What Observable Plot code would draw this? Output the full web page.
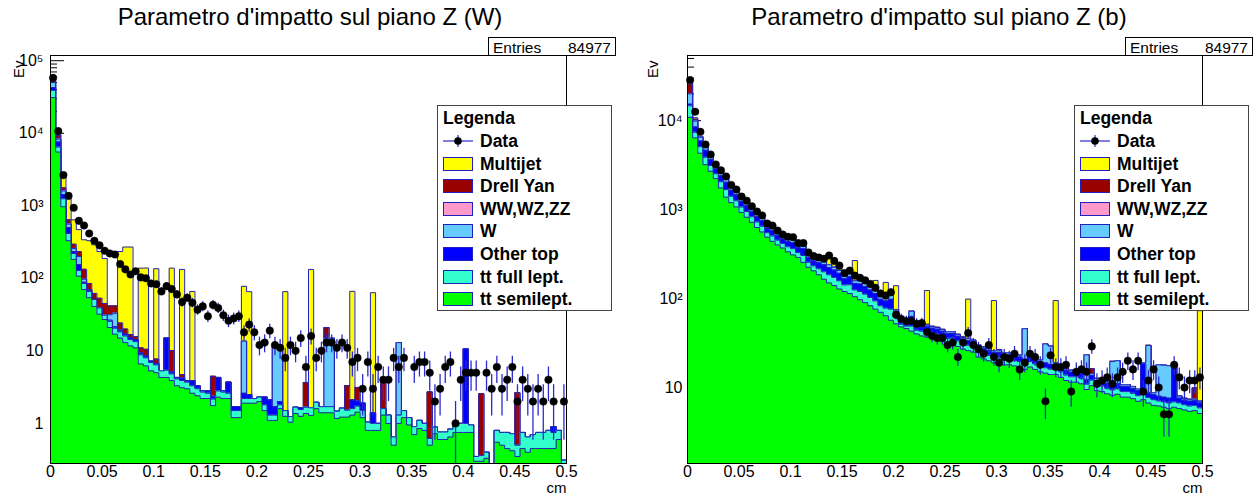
<!DOCTYPE html>
<html><head><meta charset="utf-8">
<script src="https://cdn.jsdelivr.net/npm/d3@7"></script>
<script src="https://cdn.jsdelivr.net/npm/@observablehq/plot@0.6"></script>
<style>
body{margin:0;background:#fff;font-family:"Liberation Sans",Arial,Helvetica,sans-serif;}
#root{position:relative;width:1258px;height:497px;overflow:hidden;background:#fff;}
.panel{position:absolute;top:0;width:629px;height:497px;}
.title{position:absolute;top:3px;font-size:24px;white-space:nowrap;transform:translateX(-50%);color:#000;}
.stats{position:absolute;top:37px;height:19px;width:128px;border:1px solid #000;background:#fff;font-size:15.5px;line-height:19px;box-sizing:border-box;}
.stats .k{position:absolute;left:4px;top:0;}
.stats .v{position:absolute;right:4px;top:0;}
.legend{position:absolute;top:105px;width:175px;height:206px;border:1px solid #444;background:#fff;box-sizing:border-box;font-weight:bold;font-size:17.5px;}
.legend .row{position:absolute;left:0;height:22px;line-height:22px;white-space:nowrap;}
.legend .sw{position:absolute;left:5px;top:4px;width:30px;height:14px;box-sizing:border-box;border:1px solid #2020c0;}
.legend .lab{position:absolute;left:42px;top:0;}
</style>
</head><body>
<div id="root"></div>
<script>
// ---------------- binning / axes ----------------
const nBins = 100;
const binWidth = 0.005;
const xTicks = [0, 0.05, 0.1, 0.15, 0.2, 0.25, 0.3, 0.35, 0.4, 0.45, 0.5];
const xTickLabels = ["0", "0.05", "0.1", "0.15", "0.2", "0.25", "0.3", "0.35", "0.4", "0.45", "0.5"];
const entriesW = 84977;
const entriesB = 84977;
const legendNames = ["Data", "Multijet", "Drell Yan", "WW,WZ,ZZ", "W", "Other top", "tt full lept.", "tt semilept."];

// ---------------- panel (W) ----------------
const W_ttSemi = [31000,5500,970,330,182,107,70,54,41,32,
27,21,17,15,13,11.7,11,6.6,6.2,5.3,
5.0,4.3,4.3,3.9,3.3,3.1,3.0,2.6,2.4,2.2,
2.2,1.76,2.3,2.2,2.2,1.2,1.2,1.9,1.9,1.9,
2.0,1.5,1.1,1.1,1.6,1.25,1.04,1.37,1.25,1.37,
1.29,1.6,1.4,1.4,1.4,1.17,1.22,1.22,1.3,1.43,
1.2,0.8,0.8,0.8,1.3,1.0,0.5,1.0,1.2,0.95,
0.7,0.85,0.8,0.5,0.72,0.6,0.6,0.65,0.75,0.75,
0.75,0.75,0.3,0.3,0.33,0,0.55,0.5,0.45,0.42,
0.35,0.45,0.4,0.45,0.45,0.45,0.45,0.45,0.6,0.25];
const W_ttFull = [8000,950,280,85,38,21,15,12,10,7,
4,4.5,3.5,3.2,3,2.6,2.4,2.2,1.8,1.6,
1.4,1.0,1.1,0.9,0.8,0.8,0.7,0.7,0.6,0.5,
0.4,0.4,0.5,0.5,0.4,0.3,0.3,0.3,0.3,0.3,
0.3,0.3,0.2,0.2,0.2,0.25,0.2,0.3,0.3,0.3,
0.35,0.35,0.3,0.3,0.3,0.3,0.4,0.3,0.3,0.3,
0.3,0.24,0.2,0.2,0.3,0.3,0.15,0.3,0.3,0.25,
0.2,0.25,0.2,0.12,0.17,0.16,0.16,0.18,0.2,0.25,
0.25,0.2,0.05,0.06,0.07,0,0.25,0.25,0.3,0.3,
0.15,0.3,0.25,0.25,0.3,0.3,0.35,0.3,0.2,0.06];
const W_otherTop = [3500,1100,170,85,14,27,3,2,0,0,
0,1,1,1,1,1,0.8,0.5,0.5,0.3,
0.3,0,9.6,0.3,0.2,0.3,0.2,0.6,0.3,0.1,
0.2,0.2,1.5,0.1,1.1,0.2,0.2,0.4,0.3,0,
0,0.5,0.8,0.4,0.2,0,0,0,0.1,0,
0,0,0,0,0,0,0,0,0.5,0.3,
0.4,0,0.4,0,0,0,0,0,0,0,
0,0,0,0,0,0,0,0,0,0,
9.6,0,0,0,0,0,0,0,0,0,
0,0,0,0,0,0,0,0.15,0,0];
const W_wjets = [7500,750,180,60,23,45,9,2,0,0,
0,5,11.5,0,0,0,0,0,0,0,
0,0,0,0,0,0,0,0,0,0,
0,0,0,0,0,0,0,11,0,0,
0,0,0,10,10,0,0,0,0,0,
0,0,0,12.9,13.3,0,0,0,0,0,
0,0,0,0,0,0,0,11.7,0,0,
0,0,0,0,0,0,0,0,0,0,
0,0,0,0,0,0,0,0,0,0,
0,0,0,0,0,0,0,0,0,0];
const W_diboson = [0,0,0,0,0,0,0,0,0,0,
0,0,0,0,0,0,0,0,0,0,
0,0,0,0,0,0,0,0,0,0,
0,0,0,0,0,0,0,0,0,0,
0,0,0,0,0,0,0,0,0,0,
0,0,0,0,0,0,0,0,0,0,
0,0,0,0,0,0,0,0,0,0,
0,0,0,0,0,0,0,0,0,0,
0,0,0,0,0,0,0,0,0,0,
0,0,0,0,0,0,0,0,0,0];
const W_drellYan = [3000,1100,170,80,38,34,36,15,11,14,
14,10,8.6,5,3,1.5,1.5,1.7,2,0,
1,0,0,5,0,0.5,0,0,0,0,
0,2.1,0,0,0,0,0,0,0,0,
0,0,0,0,0,0,0,0,0,2.0,
0,0,0,6.4,0,0,0,1.8,0,1.1,
0,0,0,0,2.7,0,0,0,0,0,
0,0,0,2.1,0,0,0,0,0,0,
0,0,0,2.2,0,0,0,0,0,0,
2.15,0,0,0,0,0,0,0,0,0];
const W_multijet = [4000,900,730,610,345,236,207,245,228,181,
143,0,0,210,250,253,0,127,128,0,
128,0,0,128,0,128,0,62,0,0,
0,0,0,0,0,0,0,64,63,0,
0,0,0,0,0,64,0,0,0,0,
131,0,0,0,0,0,0,0,64,0,
0,0,62,0,0,0,0,0,0,0,
0,0,0,0,0,0,0,0,0,0,
0,0,0,0,0,0,0,0,0,0,
0,0,0,0,0,0,0,0,0,0];
const W_data = [58000,10700,2650,1370,940,620,535,415,330,285,
240,220,213,157,133,113,125,103,100,85,
83,66,78,71,60,47,54,46,37,41,
30,43,39,31,26,28,30,18,23,18,
12,13,19,12,11,8,12,10,15,6,
16,8,10,13,13,11,13,11,7,8,
3,7,3,6,4,4,8,6,8,0,
6,7,7,5,2,3,6,7,1,4,
5,5,5,0,5,3,6,3,4,6,
2,4,3,2,3,2,4,2,0,2];

// ---------------- panel (b) ----------------
const b_ttSemi = [10900,6400,4300,3200,2700,2240,1750,1380,1200,1070,
930,820,720,630,560,490,440,400,370,335,
310,290,255,225,205,185,165,150,140,128,
120,114,105,97,90,83,76,70,64,57,
52,48,46,43,40,38,37,36,35,33,
31,31,29,27,26,25,22,21,20,19,
19,18,18,17.5,17,16,17,16,15,14.5,
14,14,13,12,11.5,11.5,11,9.5,10.5,9.2,
9,8.5,8.2,8.4,7.8,7.8,7.5,7,7.3,6.7,
6.3,6.2,6,5.8,6,5.8,5.6,5.4,5.5,5.1];
const b_ttFull = [3800,1000,800,675,440,290,305,300,210,185,
140,132,110,95,90,60,65,53,45,47,
54,38,50,31,28,31,35,35,33,30,
22,29,20,23,22,20,18,13,14,19,
9,3.5,3,6,4,5,6,5.5,5.3,5,
4.7,4.7,4.4,4,3.9,3.8,3.3,3.2,3,2.9,
2.9,2.7,2.7,2.6,2.6,2.4,2.6,2.4,2.3,2.2,
2.1,2.1,2,1.8,1.7,1.7,1.7,1.4,1.6,1.4,
1.4,1.3,1.2,1.3,1.2,1.2,1.1,1.1,1.1,1,
1,0.9,0.9,0.9,0.9,0.9,0.8,0.8,0.8,0.8];
const b_otherTop = [600,1100,800,770,505,330,350,345,240,210,
160,150,126,108,103,68,75,60,52,54,
62,44,58,35,32,36,40,38,36,34,
25,33,23,26,25,22,20,15,16,22,
10,3,2.8,14,3.5,5,6,5,5,4.8,
4.6,4.6,4.3,4,3.9,3.7,3.3,3.1,3,2.8,
2.8,2.7,2.7,2.6,2.5,2.4,2.5,2.4,2.2,2.2,
2.1,2.1,2,1.8,1.7,1.7,1.6,1.4,1.6,1.4,
1.4,1.3,1.2,1.3,1.2,1.2,1.1,1.1,10,1,
1,0.9,0.9,0.9,11,0.9,0.8,0.8,0.8,0.8];
const b_wjets = [4700,1400,600,350,225,150,155,155,105,95,
72,68,57,49,46,31,34,27,23,24,
28,20,26,16,14,16,18,17,16,15,
11,15,10,12,11,10,9,7,7,10,
4,1.2,1,9,1.3,2,2,2,2,2,
1.9,1.9,1.7,1.6,1.6,1.5,1.3,1.3,1.2,1.1,
1.1,1.1,1.1,1,1,25,1,1,0.9,12,
11,0.8,0.8,0.7,0.7,0.7,0.7,11,0.6,0.6,
0.5,0.5,9,9,0.5,0.5,0.5,0.4,0.5,21,
0.4,10,10,10,0.4,0.4,0.3,0.3,0.3,0.3];
const b_diboson = [0,0,0,0,0,0,0,0,0,0,
0,0,0,0,0,0,0,0,0,0,
0,0,0,0,0,0,0,0,0,0,
0,0,0,0,0,0,0,0,0,0,
0,0,0,0,0,0,0,0,0,0,
0,0,0,0,0,0,0,0,0,0,
0,0,0,0,0,0,0,0,0,0,
0,0,0,0,0,0,0,0,0,0,
0,0,0,0,0,0,0,0,0,0,
0,0,0,0,0,0,0,0,0,0];
const b_drellYan = [5700,500,100,40,25,15,17,17,12,10,
8,7,6,5,5,3,4,3,3,3,
3,2,3,2,2,2,2,2,2,2,
1,1,1,1,1,1,1,1,1,1,
0.5,0.3,0.2,0.5,0.3,0.3,0.3,0.3,0.3,0.3,
0.3,0.3,0.3,0.3,0.3,0.2,0.2,0.2,0.2,0.2,
1,0.2,0.2,0.2,0.2,0.2,0.2,0.2,0.2,0.1,
0.1,0.1,0.1,0.1,0.1,0.1,0.1,0.1,2,0.1,
0.1,0.1,0.1,0.1,0.1,0.1,0.1,0.1,0.1,0.1,
0.1,0.1,0.1,0.1,0.1,0.1,0.1,0.1,2.5,0.1];
const b_multijet = [1000,400,100,95,65,35,43,43,28,26,
20,20,16,13,13,8,9,8,6,7,
8,5,7,4,4,5,6,48,25,14,
4,4,109,3,3,3,36,2,50,3,
64,0,0,0,0,0,72,0,0,0,
0,0,0,0,63,0,0,0,0,69,
0,0,0,0,0,0,0,0,0,0,
0,76,0,0,0,0,0,0,0,0,
0,0,0,0,0,0,0,0,0,0,
0,0,0,0,0,0,0,0,0,66];
const b_data = [28600,12600,7500,5400,4170,3220,2760,2360,1890,1680,
1400,1260,1090,950,860,695,660,580,525,495,
490,420,420,330,300,290,280,305,265,235,
193,206,181,171,160,146,132,114,108,118,
66,59,56,56,52,53,42,38,36,36,
30,32,22,32,41,30,27,24,30,22,
19,22,21,24,16,19,24,22,18,7,
23,17,17,18,9,15,16,15,29,11,
12,13,11,13,15,20,16,20,9,12,
16,10,5,5,18,13,10,12,12,13];

// ---------------- styles ----------------
const COLORS = {"tt semilept.":"#00ff00","tt full lept.":"#33ffcc","Other top":"#0000ff","W":"#66ccff","WW,WZ,ZZ":"#ff99cc","Drell Yan":"#990000","Multijet":"#ffff00"};
const OUTLINE = "#2424b8";
const ERRC = "#2a2ad0";
const FLOOR = 1e-4;

const panels = [
  {title:"Parametro d'impatto sul piano Z (W)", left:0, marginLeft:50, marginRight:63, yDomain:[0.28,1.18e5],
   yLabels:[[1,"1"],[10,"10"],[100,"10²"],[1e3,"10³"],[1e4,"10⁴"],[1e5,"10⁵"]], labelDx:-7, evDx:-37,
   stack:[["tt semilept.",W_ttSemi],["tt full lept.",W_ttFull],["Other top",W_otherTop],["W",W_wjets],["WW,WZ,ZZ",W_diboson],["Drell Yan",W_drellYan],["Multijet",W_multijet]],
   data:W_data, entries:entriesW, statsLeft:488, legendLeft:437, titleX:310},
  {title:"Parametro d'impatto sul piano Z (b)", left:629, marginLeft:58, marginRight:56, yDomain:[1.4,5.4e4],
   yLabels:[[10,"10"],[100,"10²"],[1e3,"10³"],[1e4,"10⁴"]], labelDx:-5, evDx:-40,
   stack:[["tt semilept.",b_ttSemi],["tt full lept.",b_ttFull],["Other top",b_otherTop],["W",b_wjets],["WW,WZ,ZZ",b_diboson],["Drell Yan",b_drellYan],["Multijet",b_multijet]],
   data:b_data, entries:entriesB, statsLeft:1125-629, legendLeft:1074-629, titleX:310}
];

function logTicks(lo, hi) {
  const major = [], minor = [];
  for (let e = Math.floor(Math.log10(lo)); e <= Math.ceil(Math.log10(hi)); e++) {
    for (let m = 1; m <= 9; m++) {
      const v = m * Math.pow(10, e);
      if (v < lo || v > hi) continue;
      (m === 1 ? major : minor).push(v);
    }
  }
  return {major, minor};
}

function stepPoints(top) {
  const pts = [];
  top.forEach((v, i) => {
    const y = v > 0 ? v : FLOOR;
    pts.push({x: i * binWidth, y}, {x: (i + 1) * binWidth, y});
  });
  return pts;
}

const root = document.getElementById("root");

panels.forEach(p => {
  const width = 629, height = 497, marginTop = 55, marginBottom = 34;
  const frameW = width - p.marginLeft - p.marginRight;
  const layers = [];
  let run = p.stack[0][1].map(() => 0);
  p.stack.forEach(([name, vals]) => {
    run = run.map((s, i) => s + vals[i]);
    layers.push({name, color: COLORS[name], top: run.slice()});
  });
  const ticks = logTicks(p.yDomain[0], p.yDomain[1]);
  const marks = [
    Plot.tickY(ticks.minor, {y: d => d, stroke: "#000", strokeWidth: 1, insetRight: frameW - 7}),
    Plot.tickY(ticks.major, {y: d => d, stroke: "#000", strokeWidth: 1, insetRight: frameW - 14})
  ];
  for (let k = layers.length - 1; k >= 0; k--) {
    const pts = stepPoints(layers[k].top);
    marks.push(Plot.areaY(pts, {x: "x", y1: () => FLOOR, y2: "y", fill: layers[k].color, clip: true}));
    marks.push(Plot.lineY(pts, {x: "x", y: "y", stroke: OUTLINE, strokeWidth: 1, clip: true}));
  }
  const dataPts = p.data.map((v, i) => ({x: (i + 0.5) * binWidth, v})).filter(d => d.v > 0);
  marks.push(Plot.ruleX(dataPts, {x: "x", y1: d => Math.max(d.v - Math.sqrt(d.v), FLOOR), y2: d => d.v + Math.sqrt(d.v), stroke: ERRC, strokeWidth: 1.3, clip: true}));
  marks.push(Plot.dot(dataPts, {x: "x", y: "v", r: 3.8, fill: "#000", stroke: "#000", strokeWidth: 0.4}));
  marks.push(Plot.frame({stroke: "#000", strokeWidth: 1}));
  marks.push(Plot.text(p.yLabels.map(([v, label]) => ({v, label})), {y: "v", text: "label", frameAnchor: "left", dx: p.labelDx, textAnchor: "end", fontSize: 16, fill: "#000"}));
  marks.push(Plot.text(xTicks.map((v, i) => ({v, label: xTickLabels[i]})), {x: "v", text: "label", frameAnchor: "bottom", dy: 13, fontSize: 16, fill: "#000"}));
  marks.push(Plot.text(["cm"], {frameAnchor: "bottom-right", dy: 29, textAnchor: "end", fontSize: 15, fill: "#000"}));
  marks.push(Plot.text(["Ev"], {frameAnchor: "top-left", dx: p.evDx, dy: 5, rotate: -90, textAnchor: "end", fontSize: 15, fill: "#000"}));

  const svg = Plot.plot({
    width, height, marginTop, marginBottom, marginLeft: p.marginLeft, marginRight: p.marginRight,
    x: {domain: [0, 0.5], axis: null},
    y: {type: "log", domain: p.yDomain, axis: null},
    style: {fontFamily: "'Liberation Sans', Arial, Helvetica, sans-serif", background: "transparent", overflow: "visible"},
    marks
  });

  const div = document.createElement("div");
  div.className = "panel";
  div.style.left = p.left + "px";
  div.appendChild(svg);

  const t = document.createElement("div");
  t.className = "title";
  t.style.left = p.titleX + "px";
  t.textContent = p.title;
  div.appendChild(t);

  const st = document.createElement("div");
  st.className = "stats";
  st.style.left = p.statsLeft + "px";
  st.innerHTML = `<span class="k">Entries</span><span class="v">${p.entries}</span>`;
  div.appendChild(st);

  const lg = document.createElement("div");
  lg.className = "legend";
  lg.style.left = p.legendLeft + "px";
  const head = document.createElement("div");
  head.className = "row";
  head.style.top = "1px";
  head.innerHTML = `<span style="position:absolute;left:5px">Legenda</span>`;
  lg.appendChild(head);
  legendNames.forEach((name, i) => {
    const row = document.createElement("div");
    row.className = "row";
    row.style.top = (24 + i * 22.6) + "px";
    if (name === "Data") {
      row.innerHTML = `<svg width="40" height="22" style="position:absolute;left:0;top:0"><line x1="5" x2="35" y1="11" y2="11" stroke="${ERRC}" stroke-width="1.2"/><line x1="20" x2="20" y1="5" y2="17" stroke="${ERRC}" stroke-width="1.2"/><circle cx="20" cy="11" r="3.8" fill="#000"/></svg><span class="lab">${name}</span>`;
    } else {
      row.innerHTML = `<span class="sw" style="background:${COLORS[name]}"></span><span class="lab">${name}</span>`;
    }
    lg.appendChild(row);
  });
  div.appendChild(lg);
  root.appendChild(div);
});
</script>
</body></html>
